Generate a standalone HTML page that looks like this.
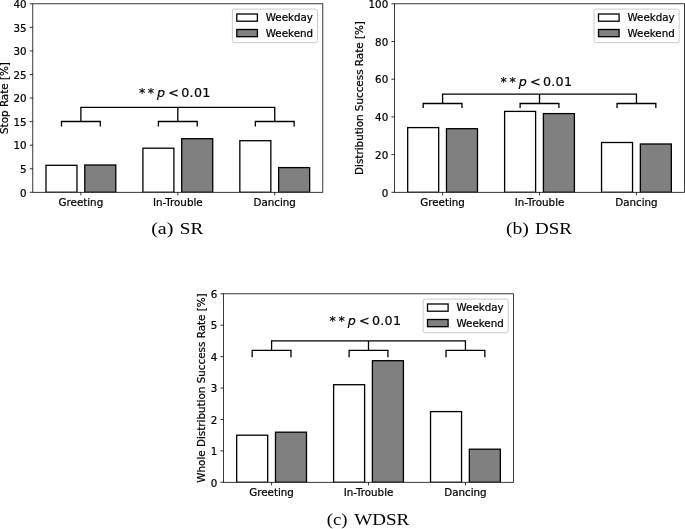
<!DOCTYPE html>
<html lang="en"><head><meta charset="utf-8"><title>Figure: SR, DSR, WDSR</title>
<style>
html,body{margin:0;padding:0;background:#fff;}
body{width:685px;height:529px;overflow:hidden;}
svg{display:block;}
text{white-space:pre;}
</style></head><body>
<svg width="685" height="529" viewBox="0 0 685 529">
<rect width="685" height="529" fill="#fff"/>
<clipPath id="c32"><rect x="32.80" y="3.80" width="290" height="188.50"/></clipPath>
<g clip-path="url(#c32)">
<rect x="45.98" y="165.30" width="31.00" height="27.00" fill="#ffffff" stroke="#000" stroke-width="1.3"/>
<rect x="84.78" y="165.00" width="31.00" height="27.30" fill="#808080" stroke="#000" stroke-width="1.3"/>
<rect x="142.91" y="148.20" width="31.00" height="44.10" fill="#ffffff" stroke="#000" stroke-width="1.3"/>
<rect x="181.71" y="138.70" width="31.00" height="53.60" fill="#808080" stroke="#000" stroke-width="1.3"/>
<rect x="239.84" y="140.70" width="31.00" height="51.60" fill="#ffffff" stroke="#000" stroke-width="1.3"/>
<rect x="278.64" y="167.60" width="31.00" height="24.70" fill="#808080" stroke="#000" stroke-width="1.3"/>
</g>
<path d="M80.88 121.50V107.40H274.74V121.50M177.81 107.40V121.50M61.48 126.40V121.50H100.28V126.40M158.41 126.40V121.50H197.21V126.40M255.34 126.40V121.50H294.14V126.40" fill="none" stroke="#000" stroke-width="1.3" stroke-linejoin="miter" stroke-linecap="butt"/>
<text font-family='"DejaVu Sans","Liberation Sans",sans-serif' font-size="12.7" fill="#000" stroke="#000" stroke-width="0.2" y="96.60"><tspan x="138.91">*</tspan><tspan x="147.71">*</tspan><tspan x="157.11" font-style="italic">p</tspan><tspan x="168.21">&lt;</tspan><tspan x="181.31" letter-spacing="0.25">0.01</tspan></text>
<path d="M32.80 192.30h-3.1M32.80 168.74h-3.1M32.80 145.18h-3.1M32.80 121.61h-3.1M32.80 98.05h-3.1M32.80 74.49h-3.1M32.80 50.93h-3.1M32.80 27.36h-3.1M32.80 3.80h-3.1M80.88 192.30v3.1M177.81 192.30v3.1M274.74 192.30v3.1" stroke="#000" stroke-width="0.78" fill="none"/>
<rect x="32.80" y="3.80" width="290.00" height="188.50" fill="none" stroke="#000" stroke-width="0.78"/>
<g font-family='"DejaVu Sans","Liberation Sans",sans-serif' font-size="10.3" fill="#000" stroke="#000" stroke-width="0.22">
<text x="26.50" y="196.50" text-anchor="end">0</text>
<text x="26.50" y="172.94" text-anchor="end">5</text>
<text x="26.50" y="149.38" text-anchor="end">10</text>
<text x="26.50" y="125.81" text-anchor="end">15</text>
<text x="26.50" y="102.25" text-anchor="end">20</text>
<text x="26.50" y="78.69" text-anchor="end">25</text>
<text x="26.50" y="55.13" text-anchor="end">30</text>
<text x="26.50" y="31.56" text-anchor="end">35</text>
<text x="26.50" y="8.00" text-anchor="end">40</text>
<text x="80.88" y="205.70" text-anchor="middle">Greeting</text>
<text x="177.81" y="205.70" text-anchor="middle">In-Trouble</text>
<text x="274.74" y="205.70" text-anchor="middle">Dancing</text>
<text transform="translate(8.00 98.05) rotate(-90)" text-anchor="middle" font-size="10.37">Stop Rate [%]</text>
<rect x="232.40" y="9.10" width="85.1" height="33.6" rx="2" ry="2" fill="#fff" fill-opacity="0.8" stroke="#ccc" stroke-opacity="1" stroke-width="1"/>
<rect x="236.80" y="14.00" width="20.6" height="7.2" fill="#fff" stroke="#000" stroke-width="1.3"/>
<rect x="236.80" y="29.50" width="20.6" height="7.2" fill="#808080" stroke="#000" stroke-width="1.3"/>
<text x="265.80" y="21.40">Weekday</text>
<text x="265.80" y="36.50">Weekend</text>
</g>
<clipPath id="c394"><rect x="394.50" y="3.80" width="290" height="188.50"/></clipPath>
<g clip-path="url(#c394)">
<rect x="407.68" y="127.60" width="31.00" height="64.70" fill="#ffffff" stroke="#000" stroke-width="1.3"/>
<rect x="446.48" y="128.70" width="31.00" height="63.60" fill="#808080" stroke="#000" stroke-width="1.3"/>
<rect x="504.61" y="111.40" width="31.00" height="80.90" fill="#ffffff" stroke="#000" stroke-width="1.3"/>
<rect x="543.41" y="113.60" width="31.00" height="78.70" fill="#808080" stroke="#000" stroke-width="1.3"/>
<rect x="601.54" y="142.50" width="31.00" height="49.80" fill="#ffffff" stroke="#000" stroke-width="1.3"/>
<rect x="640.34" y="144.00" width="31.00" height="48.30" fill="#808080" stroke="#000" stroke-width="1.3"/>
</g>
<path d="M442.58 103.50V94.10H636.44V103.50M539.51 94.10V103.50M423.18 108.00V103.50H461.98V108.00M520.11 108.00V103.50H558.91V108.00M617.04 108.00V103.50H655.84V108.00" fill="none" stroke="#000" stroke-width="1.3" stroke-linejoin="miter" stroke-linecap="butt"/>
<text font-family='"DejaVu Sans","Liberation Sans",sans-serif' font-size="12.7" fill="#000" stroke="#000" stroke-width="0.2" y="85.60"><tspan x="500.61">*</tspan><tspan x="509.41">*</tspan><tspan x="518.81" font-style="italic">p</tspan><tspan x="529.91">&lt;</tspan><tspan x="543.01" letter-spacing="0.25">0.01</tspan></text>
<path d="M394.50 192.30h-3.1M394.50 154.60h-3.1M394.50 116.90h-3.1M394.50 79.20h-3.1M394.50 41.50h-3.1M394.50 3.80h-3.1M442.58 192.30v3.1M539.51 192.30v3.1M636.44 192.30v3.1" stroke="#000" stroke-width="0.78" fill="none"/>
<rect x="394.50" y="3.80" width="290.00" height="188.50" fill="none" stroke="#000" stroke-width="0.78"/>
<g font-family='"DejaVu Sans","Liberation Sans",sans-serif' font-size="10.3" fill="#000" stroke="#000" stroke-width="0.22">
<text x="388.20" y="196.50" text-anchor="end">0</text>
<text x="388.20" y="158.80" text-anchor="end">20</text>
<text x="388.20" y="121.10" text-anchor="end">40</text>
<text x="388.20" y="83.40" text-anchor="end">60</text>
<text x="388.20" y="45.70" text-anchor="end">80</text>
<text x="388.20" y="8.00" text-anchor="end">100</text>
<text x="442.58" y="205.70" text-anchor="middle">Greeting</text>
<text x="539.51" y="205.70" text-anchor="middle">In-Trouble</text>
<text x="636.44" y="205.70" text-anchor="middle">Dancing</text>
<text transform="translate(362.80 98.05) rotate(-90)" text-anchor="middle" font-size="10.37">Distribution Success Rate [%]</text>
<rect x="594.10" y="9.10" width="85.1" height="33.6" rx="2" ry="2" fill="#fff" fill-opacity="0.8" stroke="#ccc" stroke-opacity="1" stroke-width="1"/>
<rect x="598.50" y="14.00" width="20.6" height="7.2" fill="#fff" stroke="#000" stroke-width="1.3"/>
<rect x="598.50" y="29.50" width="20.6" height="7.2" fill="#808080" stroke="#000" stroke-width="1.3"/>
<text x="627.50" y="21.40">Weekday</text>
<text x="627.50" y="36.50">Weekend</text>
</g>
<clipPath id="c223"><rect x="223.50" y="293.80" width="290" height="188.50"/></clipPath>
<g clip-path="url(#c223)">
<rect x="236.68" y="435.20" width="31.00" height="47.10" fill="#ffffff" stroke="#000" stroke-width="1.3"/>
<rect x="275.48" y="432.20" width="31.00" height="50.10" fill="#808080" stroke="#000" stroke-width="1.3"/>
<rect x="333.61" y="384.70" width="31.00" height="97.60" fill="#ffffff" stroke="#000" stroke-width="1.3"/>
<rect x="372.41" y="360.70" width="31.00" height="121.60" fill="#808080" stroke="#000" stroke-width="1.3"/>
<rect x="430.54" y="411.60" width="31.00" height="70.70" fill="#ffffff" stroke="#000" stroke-width="1.3"/>
<rect x="469.34" y="449.20" width="31.00" height="33.10" fill="#808080" stroke="#000" stroke-width="1.3"/>
</g>
<path d="M271.58 350.30V340.90H465.44V350.30M368.51 340.90V350.30M252.18 357.30V350.30H290.98V357.30M349.11 357.30V350.30H387.91V357.30M446.04 357.30V350.30H484.84V357.30" fill="none" stroke="#000" stroke-width="1.3" stroke-linejoin="miter" stroke-linecap="butt"/>
<text font-family='"DejaVu Sans","Liberation Sans",sans-serif' font-size="12.7" fill="#000" stroke="#000" stroke-width="0.2" y="324.80"><tspan x="329.61">*</tspan><tspan x="338.41">*</tspan><tspan x="347.81" font-style="italic">p</tspan><tspan x="358.91">&lt;</tspan><tspan x="372.01" letter-spacing="0.25">0.01</tspan></text>
<path d="M223.50 482.30h-3.1M223.50 450.88h-3.1M223.50 419.47h-3.1M223.50 388.05h-3.1M223.50 356.63h-3.1M223.50 325.22h-3.1M223.50 293.80h-3.1M271.58 482.30v3.1M368.51 482.30v3.1M465.44 482.30v3.1" stroke="#000" stroke-width="0.78" fill="none"/>
<rect x="223.50" y="293.80" width="290.00" height="188.50" fill="none" stroke="#000" stroke-width="0.78"/>
<g font-family='"DejaVu Sans","Liberation Sans",sans-serif' font-size="10.3" fill="#000" stroke="#000" stroke-width="0.22">
<text x="217.20" y="486.50" text-anchor="end">0</text>
<text x="217.20" y="455.08" text-anchor="end">1</text>
<text x="217.20" y="423.67" text-anchor="end">2</text>
<text x="217.20" y="392.25" text-anchor="end">3</text>
<text x="217.20" y="360.83" text-anchor="end">4</text>
<text x="217.20" y="329.42" text-anchor="end">5</text>
<text x="217.20" y="298.00" text-anchor="end">6</text>
<text x="271.58" y="495.70" text-anchor="middle">Greeting</text>
<text x="368.51" y="495.70" text-anchor="middle">In-Trouble</text>
<text x="465.44" y="495.70" text-anchor="middle">Dancing</text>
<text transform="translate(204.50 388.05) rotate(-90)" text-anchor="middle" font-size="10.37">Whole Distribution Success Rate [%]</text>
<rect x="423.10" y="299.10" width="85.1" height="33.6" rx="2" ry="2" fill="#fff" fill-opacity="0.8" stroke="#ccc" stroke-opacity="1" stroke-width="1"/>
<rect x="427.50" y="304.00" width="20.6" height="7.2" fill="#fff" stroke="#000" stroke-width="1.3"/>
<rect x="427.50" y="319.50" width="20.6" height="7.2" fill="#808080" stroke="#000" stroke-width="1.3"/>
<text x="456.50" y="311.40">Weekday</text>
<text x="456.50" y="326.50">Weekend</text>
</g>
<text font-family='"Liberation Serif","DejaVu Serif",serif' font-size="17.5" fill="#000" y="233.8"><tspan x="151.20" textLength="22.25" lengthAdjust="spacingAndGlyphs">(a)</tspan><tspan x="179.80" textLength="23.4" lengthAdjust="spacingAndGlyphs">SR</tspan></text>
<text font-family='"Liberation Serif","DejaVu Serif",serif' font-size="17.5" fill="#000" y="233.8"><tspan x="505.90" textLength="23.0" lengthAdjust="spacingAndGlyphs">(b)</tspan><tspan x="535.00" textLength="37.0" lengthAdjust="spacingAndGlyphs">DSR</tspan></text>
<text font-family='"Liberation Serif","DejaVu Serif",serif' font-size="17.5" fill="#000" y="525.0"><tspan x="326.80" textLength="20.8" lengthAdjust="spacingAndGlyphs">(c)</tspan><tspan x="354.20" textLength="55.0" lengthAdjust="spacingAndGlyphs">WDSR</tspan></text>
</svg>
</body></html>
